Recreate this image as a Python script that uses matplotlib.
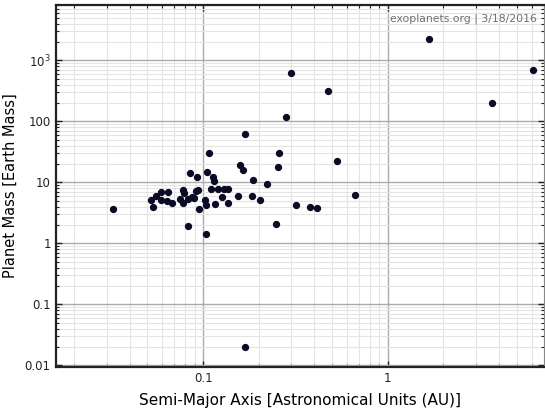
import matplotlib
matplotlib.use("Agg")
import matplotlib.pyplot as plt
from matplotlib.ticker import FixedLocator, FixedFormatter, LogLocator, NullFormatter

# semi-major axis (AU) and planet mass (earth masses)
semi_major_axis = [0.0325, 0.0523, 0.0534, 0.0557, 0.0595, 0.059, 0.0635, 0.0649, 0.068,
                   0.0752, 0.0782, 0.0788, 0.0782, 0.0824, 0.0827, 0.0853, 0.0876, 0.0891,
                   0.091, 0.0929, 0.0937, 0.0946, 0.1023, 0.1031, 0.1031, 0.105, 0.1076,
                   0.1104, 0.1134, 0.1144, 0.116, 0.1205, 0.127, 0.129, 0.1367, 0.1367,
                   0.1543, 0.1575, 0.1645, 0.168, 0.1857, 0.185, 0.2025, 0.2217, 0.248,
                   0.256, 0.2547, 0.32, 0.379, 0.415, 0.531, 0.668, 0.280, 0.30, 0.476,
                   1.67, 3.67, 6.11, 0.169]
planet_mass = [3.68, 5.17, 3.92, 5.94, 7.07, 5.17, 4.97, 7.07, 4.67,
               5.42, 7.54, 6.65, 4.61, 5.3, 1.91, 14.5, 5.85, 5.63,
               7.34, 12.4, 7.45, 3.64, 5.17, 4.23, 1.42, 14.7, 30.1,
               7.82, 12.4, 10.7, 4.44, 7.74, 5.72, 7.91, 7.82, 4.67,
               5.94, 19.1, 16.2, 61.7, 11.1, 5.94, 5.22, 9.45, 2.09,
               30.1, 18.2, 4.28, 3.97, 3.86, 22.8, 6.31, 117, 617, 316,
               2250, 199, 691, 0.0201]

x_ticks = [0.1, 1]
x_tick_labels = ["0.1", "1"]
y_ticks = [0.01, 0.1, 1, 10, 100, 1000]
y_tick_labels = ["0.01", "0.1", "1", "10", "100", "$10^3$"]

plt.rcParams["mathtext.default"] = "regular"

fig = plt.figure(figsize=(5.45, 4.12), dpi=100)
ax = fig.add_axes([0.102, 0.109, 0.896, 0.879])

ax.scatter(semi_major_axis, planet_mass, s=18, color="#0b0b26", zorder=3)

ax.set_xscale("log")
ax.set_yscale("log")
ax.set_xlim(0.0159, 7.0)
ax.set_ylim(0.0094, 8100)

ax.xaxis.set_major_locator(FixedLocator(x_ticks))
ax.xaxis.set_major_formatter(FixedFormatter(x_tick_labels))
ax.yaxis.set_major_locator(FixedLocator(y_ticks))
ax.yaxis.set_major_formatter(FixedFormatter(y_tick_labels))
ax.xaxis.set_minor_locator(LogLocator(base=10, subs=range(2, 10), numticks=20))
ax.yaxis.set_minor_locator(LogLocator(base=10, subs=range(2, 10), numticks=20))
ax.xaxis.set_minor_formatter(NullFormatter())
ax.yaxis.set_minor_formatter(NullFormatter())

ax.grid(True, which="major", color="#ababab", linewidth=1.0, zorder=0)
ax.grid(True, which="minor", color="#e4e4e4", linewidth=0.8, zorder=0)
ax.set_axisbelow(True)

ax.tick_params(which="both", direction="in", top=True, right=True, labelsize=8.5,
               colors="#222222")
ax.tick_params(which="major", length=4, width=1)
ax.tick_params(which="minor", length=2.5, width=0.8)

for side in ["left", "bottom", "top"]:
    ax.spines[side].set_linewidth(1.6)
    ax.spines[side].set_color("#222222")
ax.spines["right"].set_color("#888888")

ax.set_xlabel("Semi-Major Axis [Astronomical Units (AU)]", fontsize=11, labelpad=6)
ax.set_ylabel("Planet Mass [Earth Mass]", fontsize=10.5, labelpad=5)

ax.text(0.986, 0.975, "exoplanets.org | 3/18/2016", transform=ax.transAxes,
        ha="right", va="top", fontsize=7.8, color="#707070")

fig.savefig("out.png", dpi=100)
